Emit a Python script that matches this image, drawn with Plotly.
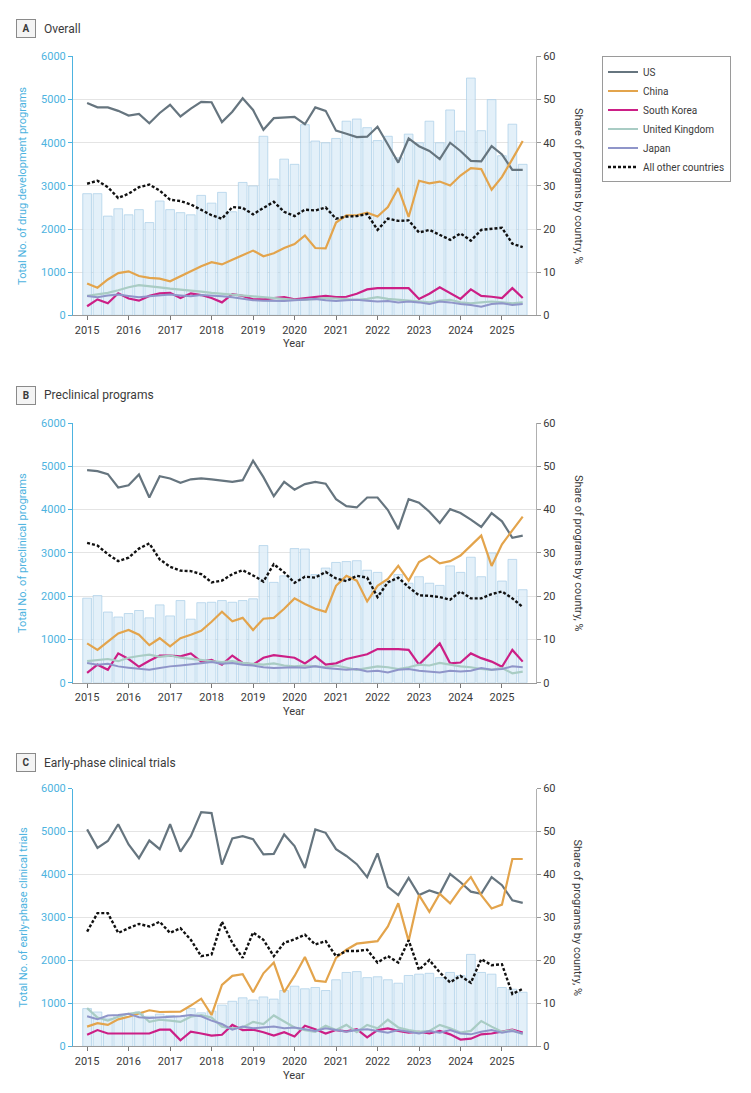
import plotly.graph_objects as go

# page is 751x1093; browser body margin is 8px, so the figure is 16px smaller
W, H = 751, 1093
OFF = 8
FW, FH = W - 2 * OFF, H - 2 * OFF

# ---------------- data ----------------
quarters = [2015 + 0.25 * i for i in range(43)]
year_ticks = list(range(2015, 2026))

countries = ["US", "China", "South Korea", "United Kingdom", "Japan", "All other countries"]

# Panel A: Overall
A_total = [2820, 2820, 2300, 2470, 2330, 2450, 2150, 2650, 2450, 2380, 2330, 2780, 2600, 2850, 2400,
           3080, 3000, 4150, 3160, 3620, 3500, 4420, 4040, 4000, 4100, 4500, 4550, 4350, 4050, 4150,
           3650, 4200, 4000, 4500, 4000, 4760, 4270, 5500, 4280, 5000, 3700, 4430, 3500]
A_us = [49.2, 48.2, 48.2, 47.4, 46.3, 46.7, 44.5, 46.9, 48.8, 46.1, 47.9, 49.5, 49.4, 44.8, 47.2,
        50.3, 47.6, 43.0, 45.7, 45.9, 46.0, 44.3, 48.2, 47.4, 42.8, 42.1, 41.3, 41.4, 43.7, 39.6,
        35.4, 41.0, 39.2, 38.1, 36.2, 40.0, 38.1, 35.8, 35.7, 39.2, 37.3, 33.7, 33.7]
A_china = [7.4, 6.4, 8.3, 9.8, 10.2, 9.1, 8.7, 8.5, 7.9, 9.1, 10.2, 11.4, 12.3, 11.8, 12.9,
           14.0, 15.0, 13.7, 14.4, 15.6, 16.5, 18.5, 15.6, 15.5, 21.5, 23.2, 23.2, 23.8, 22.9, 25.1,
           29.5, 22.8, 31.2, 30.6, 31.0, 30.1, 32.4, 34.1, 33.9, 29.1, 32.1, 36.2, 40.4]
A_korea = [2.1, 3.7, 2.8, 5.1, 3.9, 3.4, 4.5, 5.1, 5.2, 4.0, 5.1, 4.7, 4.0, 3.0, 4.9,
           4.5, 3.7, 3.7, 4.0, 4.2, 3.7, 4.0, 4.3, 4.5, 4.2, 4.3, 5.0, 6.0, 6.3, 6.3,
           6.3, 6.3, 3.8, 5.0, 6.5, 5.2, 3.8, 6.0, 4.5, 4.3, 4.0, 6.3, 4.0]
A_uk = [4.5, 4.8, 5.2, 5.8, 6.5, 7.0, 6.8, 6.5, 6.2, 6.0, 5.8, 5.5, 5.2, 5.0, 4.8,
        4.6, 4.5, 4.2, 4.0, 3.8, 3.6, 3.6, 3.8, 4.0, 3.9, 3.8, 3.6, 3.8, 4.2, 3.8,
        3.6, 3.4, 3.2, 3.0, 3.4, 3.6, 3.0, 2.8, 3.0, 3.2, 3.0, 2.8, 3.0]
A_japan = [4.5, 4.2, 4.6, 4.8, 4.5, 4.2, 4.4, 4.6, 4.8, 4.6, 4.4, 4.7, 4.6, 4.4, 4.2,
           3.8, 3.5, 3.4, 3.3, 3.3, 3.5, 3.6, 3.8, 3.5, 3.3, 3.5, 3.6, 3.4, 3.2, 3.3,
           3.0, 3.2, 3.0, 2.6, 3.2, 3.0, 2.6, 2.4, 2.0, 2.6, 2.8, 2.4, 2.6]
A_other = [30.5, 31.2, 29.7, 27.2, 28.2, 29.7, 30.3, 28.9, 26.8, 26.5, 25.7, 24.5, 23.2, 22.4, 25.1,
           24.9, 23.4, 24.9, 26.3, 24.0, 23.0, 24.5, 24.3, 25.0, 22.4, 22.9, 23.0, 23.5, 19.8, 22.4,
           21.9, 22.0, 19.2, 19.8, 18.6, 17.5, 19.0, 17.3, 19.8, 20.1, 20.3, 16.6, 15.8]

# Panel B: Preclinical programs
B_total = [1955, 2015, 1635, 1520, 1600, 1670, 1500, 1800, 1545, 1900, 1470, 1850, 1860, 1900, 1860,
           1900, 1940, 3170, 2320, 2470, 3100, 3090, 2500, 2650, 2780, 2800, 2820, 2600, 2550, 2350,
           2500, 2300, 2450, 2300, 2250, 2700, 2550, 2900, 2450, 3000, 2350, 2850, 2150]
B_us = [49.1, 48.9, 48.2, 45.1, 45.6, 48.1, 42.8, 47.7, 47.2, 46.2, 47.0, 47.2, 47.0, 46.7, 46.4,
        46.8, 51.3, 47.5, 43.1, 46.4, 44.6, 45.9, 46.4, 46.0, 42.4, 40.8, 40.5, 42.8, 42.8, 39.9,
        35.5, 42.4, 41.6, 39.5, 36.9, 40.1, 39.2, 37.7, 36.0, 39.2, 37.3, 33.5, 34.0]
B_china = [9.1, 7.6, 9.5, 11.4, 12.2, 11.1, 8.7, 10.3, 8.4, 10.3, 11.1, 12.0, 14.1, 16.4, 14.2,
           15.0, 12.2, 14.8, 15.0, 17.1, 19.5, 18.2, 17.1, 16.4, 22.4, 24.7, 23.6, 18.8, 22.4, 24.0,
           27.0, 23.6, 27.9, 29.3, 27.6, 28.1, 29.4, 31.6, 34.0, 27.0, 32.0, 35.2, 38.4]
B_korea = [2.3, 4.2, 3.0, 6.8, 5.5, 3.7, 5.1, 6.3, 6.3, 6.1, 6.8, 4.9, 5.3, 4.2, 6.3,
           4.6, 4.2, 5.8, 6.4, 6.1, 5.8, 4.5, 6.1, 4.2, 4.5, 5.5, 6.1, 6.6, 7.8, 7.8,
           7.8, 7.6, 4.2, 6.6, 9.1, 4.5, 4.7, 6.8, 5.7, 4.9, 3.7, 7.6, 4.9]
B_uk = [5.0, 5.2, 5.5, 5.0, 5.8, 6.2, 6.5, 6.0, 6.3, 5.8, 5.5, 5.2, 5.0, 4.8, 5.0,
        4.6, 4.4, 4.2, 4.5, 4.0, 3.8, 4.0, 3.8, 3.6, 4.0, 3.5, 3.0, 3.4, 3.8, 3.6,
        3.2, 3.6, 4.2, 4.0, 4.6, 4.2, 3.8, 3.6, 3.2, 3.0, 3.4, 2.2, 2.6]
B_japan = [4.6, 4.2, 4.4, 3.8, 3.5, 3.2, 3.0, 3.4, 3.8, 4.0, 4.2, 4.5, 4.8, 4.4, 4.6,
           4.2, 4.0, 3.6, 3.4, 3.5, 3.6, 3.5, 3.8, 3.4, 3.2, 3.0, 3.2, 2.6, 2.8, 2.4,
           3.0, 3.2, 2.8, 2.6, 2.4, 2.8, 2.6, 2.8, 3.4, 3.0, 3.2, 3.8, 3.6]
B_other = [32.3, 31.7, 29.7, 28.1, 28.9, 31.0, 32.2, 28.5, 26.8, 25.9, 25.8, 25.1, 23.2, 23.6, 25.1,
           26.0, 24.8, 23.4, 27.4, 25.5, 23.1, 24.5, 24.3, 25.6, 24.1, 23.5, 24.7, 24.3, 19.8, 23.2,
           24.3, 22.1, 20.2, 20.1, 19.8, 19.2, 21.1, 19.5, 19.5, 20.5, 21.1, 19.5, 17.5]

# Panel C: Early-phase clinical trials
C_total = [880, 800, 660, 720, 690, 800, 700, 750, 720, 700, 880, 780, 820, 960, 1050,
           1130, 1080, 1150, 1100, 1300, 1400, 1340, 1370, 1300, 1550, 1720, 1740, 1600, 1620, 1550,
           1470, 1650, 1680, 1700, 1600, 1720, 1650, 2140, 1720, 1680, 1370, 1330, 1260]
C_us = [50.5, 46.2, 47.8, 51.7, 47.0, 43.8, 47.9, 45.9, 51.7, 45.3, 48.9, 54.5, 54.3, 42.3, 48.4,
        48.9, 48.2, 44.7, 44.8, 49.3, 46.6, 41.5, 50.5, 49.7, 45.9, 44.3, 42.4, 39.4, 44.9, 37.1,
        35.2, 39.2, 35.2, 36.3, 35.5, 40.1, 38.2, 36.0, 35.5, 39.4, 37.5, 34.0, 33.4]
C_china = [4.6, 5.4, 5.0, 6.3, 6.9, 7.6, 8.4, 8.0, 8.1, 8.1, 9.5, 11.1, 7.3, 14.3, 16.4,
           16.8, 12.6, 17.0, 19.5, 12.6, 16.4, 20.8, 15.3, 15.0, 20.6, 22.5, 23.9, 24.2, 24.5, 27.9,
           33.3, 24.5, 35.2, 31.3, 35.5, 33.3, 36.7, 39.4, 35.2, 32.1, 33.0, 43.6, 43.6]
C_korea = [2.7, 3.8, 3.0, 3.0, 3.0, 3.0, 3.0, 3.9, 3.9, 1.4, 3.4, 3.0, 2.5, 2.7, 5.0,
           3.8, 3.9, 3.3, 2.5, 3.3, 2.3, 4.8, 4.0, 3.0, 3.8, 3.5, 4.0, 2.1, 3.8, 4.2,
           3.6, 3.2, 3.4, 3.0, 3.6, 2.8, 1.6, 1.8, 2.8, 3.0, 3.4, 3.9, 3.2]
C_uk = [8.9, 6.7, 6.0, 6.9, 7.6, 7.9, 5.7, 6.2, 6.0, 5.7, 6.9, 7.3, 6.7, 4.6, 4.2,
        4.4, 5.7, 5.2, 7.2, 5.7, 4.4, 3.8, 3.4, 4.8, 3.8, 5.0, 3.3, 5.0, 4.2, 6.2,
        4.4, 3.8, 3.4, 3.6, 5.0, 4.2, 3.2, 3.6, 5.9, 4.6, 3.4, 3.8, 2.8]
C_japan = [7.0, 6.3, 7.2, 7.3, 7.6, 6.8, 6.6, 6.7, 6.8, 7.0, 7.3, 7.0, 6.0, 5.2, 3.9,
           4.6, 4.2, 4.4, 4.6, 4.2, 4.4, 4.0, 3.6, 4.2, 3.8, 3.4, 3.8, 4.0, 3.6, 3.2,
           3.8, 3.4, 3.0, 3.6, 3.2, 3.8, 3.0, 2.8, 3.4, 3.8, 3.2, 3.6, 3.0]
C_other = [26.7, 31.0, 31.0, 26.4, 27.5, 28.5, 27.9, 29.0, 26.4, 27.5, 24.8, 21.0, 21.4, 29.0, 24.1,
           20.6, 26.5, 24.8, 21.0, 24.1, 24.9, 26.0, 23.7, 24.5, 21.0, 22.2, 22.2, 22.5, 19.5, 21.0,
           19.5, 24.7, 17.8, 20.1, 17.2, 14.9, 16.4, 14.8, 20.3, 18.9, 19.1, 12.2, 13.4]

panels = [
    ("A", "Overall", "Total No. of drug development programs", A_total,
     [A_us, A_china, A_korea, A_uk, A_japan, A_other]),
    ("B", "Preclinical programs", "Total No. of preclinical programs", B_total,
     [B_us, B_china, B_korea, B_uk, B_japan, B_other]),
    ("C", "Early-phase clinical trials", "Total No. of early-phase clinical trials", C_total,
     [C_us, C_china, C_korea, C_uk, C_japan, C_other]),
]

# ---------------- style ----------------
FONT = "Roboto, Arial, sans-serif"
BLUE = "#4db3e0"
TXT = "#3a3a3a"
line_styles = {
    "US": dict(color="#66757f", width=2.2),
    "China": dict(color="#e3a44c", width=2.2),
    "South Korea": dict(color="#cc1f86", width=2.2),
    "United Kingdom": dict(color="#a9ccc4", width=2.2),
    "Japan": dict(color="#8f95c9", width=2.0),
    "All other countries": dict(color="#111111", width=2.4, dash="3px,2px"),
}

# pixel geometry (page coordinates of the reference)
X0, X1 = 73, 536
panel_px = [(51, 313), (422, 685), (792, 1053)]
header_y = [23, 394, 766]


def px(x):
    return (x - OFF) / FW


def py(y):
    return 1 - (y - OFF) / FH


fig = go.Figure()
layout = dict(
    width=FW, height=FH, margin=dict(l=0, r=0, t=0, b=0),
    paper_bgcolor="white", plot_bgcolor="white",
    font=dict(family=FONT, size=11, color=TXT),
    barmode="overlay",
    showlegend=True,
    legend=dict(x=px(602), y=py(51), xanchor="left", yanchor="top",
                bordercolor="#9a9a9a", borderwidth=1, bgcolor="white",
                font=dict(size=10, color=TXT), tracegroupgap=0, itemwidth=30),
)
annotations = []

for k, (letter, title, ltitle, totals, series) in enumerate(panels):
    n = k + 1
    xa = "x" if n == 1 else f"x{n}"
    ya = f"y{2 * n - 1}" if n > 1 else "y"
    yb = f"y{2 * n}"
    top, bot = panel_px[k]

    fig.add_trace(go.Bar(
        x=quarters, y=totals, xaxis=xa, yaxis=ya, width=0.21,
        marker=dict(color="rgba(222,237,248,0.85)",
                    line=dict(color="rgba(170,206,232,0.9)", width=0.8)),
        showlegend=False, hoverinfo="skip"))
    for name, vals in zip(countries, series):
        fig.add_trace(go.Scatter(
            x=quarters, y=vals, xaxis=xa, yaxis=yb, mode="lines", name=name,
            line=line_styles[name], showlegend=(k == 0), legendgroup=name))

    xkey = "xaxis" if n == 1 else f"xaxis{n}"
    ykey = "yaxis" if n == 1 else f"yaxis{2 * n - 1}"
    ykey2 = f"yaxis{2 * n}"
    dom_y = [py(bot), py(top)]
    layout[xkey] = dict(
        domain=[px(X0), px(X1)], anchor=ya, range=[2014.66, 2025.82],
        tickvals=year_ticks, ticks="outside", ticklen=4, tickcolor="#777",
        showline=True, linecolor="#9a9a9a", showgrid=False, zeroline=False,
        tickfont=dict(size=11, color=TXT))
    layout[ykey] = dict(
        domain=dom_y, anchor=xa, range=[0, 6000], dtick=1000,
        ticks="outside", ticklen=4, tickcolor=BLUE,
        showline=True, linecolor=BLUE, linewidth=1,
        showgrid=True, gridcolor="#e4e4e4", zeroline=False,
        tickfont=dict(size=11, color=BLUE))
    layout[ykey2] = dict(
        overlaying=ya, side="right", anchor=xa, range=[0, 60], dtick=10,
        ticks="outside", ticklen=4, tickcolor="#999",
        showline=True, linecolor="#b0b0b0", showgrid=False, zeroline=False,
        tickfont=dict(size=11, color=TXT))

    mid = (top + bot) / 2
    common = dict(xref="paper", yref="paper", showarrow=False,
                  xanchor="center", yanchor="middle")
    annotations += [
        dict(text=ltitle, x=px(23), y=py(mid), textangle=-90,
             font=dict(size=11, color=BLUE), **common),
        dict(text="Share of programs by country, %", x=px(578), y=py(mid),
             textangle=90, font=dict(size=11, color=TXT), **common),
        dict(text="Year", x=px(294), y=py(bot + 29), font=dict(size=11, color=TXT), **common),
        dict(text=f"<b>{letter}</b>", x=px(26), y=py(header_y[k]),
             font=dict(size=10, color=TXT), bordercolor="#8a8a8a",
             borderwidth=1, borderpad=3, bgcolor="#f4f4f4", width=12, **common),
        dict(text=title, x=px(42), y=py(header_y[k]), xref="paper", yref="paper",
             xanchor="left", yanchor="middle", showarrow=False,
             font=dict(size=12, color=TXT)),
    ]

layout["annotations"] = annotations
fig.update_layout(**layout)
fig.write_html("out.html")
